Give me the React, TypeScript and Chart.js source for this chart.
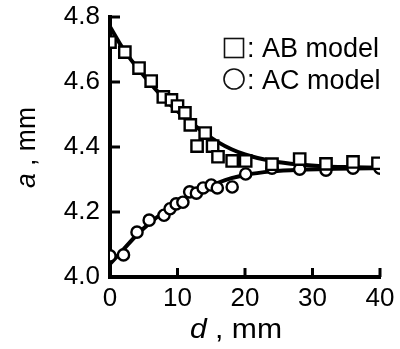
import React, { useEffect, useRef } from 'react';
import { Chart, registerables } from 'chart.js';
Chart.register(...registerables);

// AB model measured points (square markers)
const abD = [0, 2.2, 4.3, 6.1, 7.9, 9.1, 10, 11.1, 11.9, 12.9, 14.1, 15.2, 16, 18.1, 20.1, 24, 28.1, 32, 36, 39.7];
const abA = [4.723, 4.692, 4.643, 4.603, 4.554, 4.545, 4.526, 4.505, 4.468, 4.403, 4.443, 4.403, 4.37, 4.357, 4.357, 4.347, 4.363, 4.348, 4.354, 4.35];

// AC model measured points (circle markers)
const acD = [0, 2, 4, 5.8, 8, 8.9, 9.8, 10.8, 11.8, 12.8, 13.8, 15, 15.9, 18.1, 20.1, 24, 28.1, 32, 36, 40];
const acA = [4.065, 4.068, 4.138, 4.175, 4.19, 4.21, 4.225, 4.23, 4.262, 4.258, 4.274, 4.283, 4.274, 4.277, 4.317, 4.335, 4.332, 4.329, 4.335, 4.335];

// Fitted curves
const curveD = [0, 2, 4, 6, 8, 10, 12, 14, 16, 18, 20, 24, 28, 32, 36, 40];
const abFit = [4.77, 4.70, 4.645, 4.595, 4.55, 4.51, 4.475, 4.443, 4.415, 4.393, 4.377, 4.357, 4.346, 4.34, 4.338, 4.336];
const acFit = [4.04, 4.085, 4.13, 4.168, 4.2, 4.228, 4.253, 4.273, 4.29, 4.304, 4.314, 4.325, 4.33, 4.332, 4.334, 4.335];

const xTicks = [0, 10, 20, 30, 40];
const yTicks = [4.0, 4.2, 4.4, 4.6, 4.8];
const legendLabels = [': AB model', ': AC model'];

const FONT = 'Liberation Sans';

const pairs = (xs: number[], ys: number[]) => xs.map((x, i) => ({ x, y: ys[i] }));

const zeroPad = (s: any) => {
  s.paddingTop = 0;
  s.paddingBottom = 0;
  s.paddingLeft = 0;
  s.paddingRight = 0;
};

const decorPlugin = {
  id: 'decor',
  afterDraw(chart: any) {
    const { ctx, chartArea } = chart;
    const xs = chart.scales.x;
    const ys = chart.scales.y;
    ctx.save();
    ctx.strokeStyle = '#000';
    ctx.lineWidth = 3;
    // inward tick marks
    yTicks.forEach((v) => {
      const py = ys.getPixelForValue(v);
      ctx.beginPath();
      ctx.moveTo(chartArea.left, py);
      ctx.lineTo(chartArea.left + 10, py);
      ctx.stroke();
    });
    xTicks.forEach((v) => {
      const px = xs.getPixelForValue(v);
      ctx.beginPath();
      ctx.moveTo(px, chartArea.bottom);
      ctx.lineTo(px, chartArea.bottom - 9);
      ctx.stroke();
    });

    ctx.fillStyle = '#000';
    ctx.textBaseline = 'alphabetic';
    ctx.textAlign = 'left';
    // legend
    ctx.lineWidth = 1.6;
    ctx.strokeStyle = '#111';
    ctx.strokeRect(224.5, 38.5, 19, 19);
    ctx.beginPath();
    ctx.arc(234, 79, 10, 0, Math.PI * 2);
    ctx.stroke();
    ctx.font = `27px ${FONT}`;
    ctx.fillText(legendLabels[0], 247, 57);
    ctx.fillText(legendLabels[1], 247, 89);

    const drawTitle = (italic: string, rest: string, target: number) => {
      ctx.font = `italic 27px ${FONT}`;
      const w1 = ctx.measureText(italic).width;
      ctx.font = `27px ${FONT}`;
      const w2 = ctx.measureText(rest).width;
      const sx = target / (w1 + w2);
      ctx.scale(sx, 1);
      ctx.font = `italic 27px ${FONT}`;
      ctx.fillText(italic, 0, 0);
      ctx.font = `27px ${FONT}`;
      ctx.fillText(rest, w1, 0);
    };
    // x axis title: italic d , mm
    ctx.save();
    ctx.translate(190, 338);
    drawTitle('d', ' , mm', 92);
    ctx.restore();

    // y axis title (rotated)
    ctx.save();
    ctx.translate(35, 188);
    ctx.rotate(-Math.PI / 2);
    drawTitle('a', ' , mm', 81);
    ctx.restore();

    ctx.restore();
  },
};

export default function App() {
  const ref = useRef<HTMLCanvasElement>(null);
  useEffect(() => {
    if (!ref.current) return;
    const chart = new Chart(ref.current, {
      type: 'scatter',
      data: {
        datasets: [
          {
            label: 'AB model',
            data: pairs(abD, abA),
            pointStyle: 'rect',
            pointRadius: 8,
            pointBorderWidth: 2.4,
            pointBorderColor: '#000',
            pointBackgroundColor: '#fff',
            showLine: false,
            order: 1,
          },
          {
            label: 'AC model',
            data: pairs(acD, acA),
            pointStyle: 'circle',
            pointRadius: 5.6,
            pointBorderWidth: 2.4,
            pointBorderColor: '#000',
            pointBackgroundColor: '#fff',
            showLine: false,
            order: 1,
          },
          {
            label: 'AB fit',
            data: pairs(curveD, abFit),
            showLine: true,
            pointRadius: 0,
            borderColor: '#000',
            borderWidth: 4,
            cubicInterpolationMode: 'monotone',
            order: 2,
          },
          {
            label: 'AC fit',
            data: pairs(curveD, acFit),
            showLine: true,
            pointRadius: 0,
            borderColor: '#000',
            borderWidth: 4,
            cubicInterpolationMode: 'monotone',
            order: 2,
          },
        ],
      },
      options: {
        animation: false,
        responsive: false,
        maintainAspectRatio: false,
        layout: { padding: { top: 17, right: 20, left: 0, bottom: 0 } },
        plugins: { legend: { display: false }, tooltip: { enabled: false } },
        scales: {
          x: {
            type: 'linear',
            min: 0,
            max: 40,
            afterBuildTicks: (s: any) => { s.ticks = xTicks.map((v) => ({ value: v })); },
            afterFit: (s: any) => { s.height = 72; zeroPad(s); },
            grid: { display: false, drawTicks: false },
            border: { display: true, width: 4, color: '#000' },
            ticks: { color: '#000', padding: 6, font: { family: FONT, size: 26 }, maxRotation: 0 },
          },
          y: {
            type: 'linear',
            min: 4.0,
            max: 4.8,
            afterBuildTicks: (s: any) => { s.ticks = yTicks.map((v) => ({ value: v })); },
            afterFit: (s: any) => { s.width = 110; zeroPad(s); },
            grid: { display: false, drawTicks: false },
            border: { display: true, width: 4, color: '#000' },
            ticks: {
              color: '#000',
              padding: 10,
              font: { family: FONT, size: 26 },
              callback: (v: any) => Number(v).toFixed(1),
            },
          },
        },
      },
      plugins: [decorPlugin],
    });
    return () => chart.destroy();
  }, []);
  return (
    <div style={{ position: 'absolute', left: 0, top: 0, width: 400, height: 349, background: '#fff' }}>
      <canvas ref={ref} width={400} height={349} style={{ width: 400, height: 349 }} />
    </div>
  );
}
